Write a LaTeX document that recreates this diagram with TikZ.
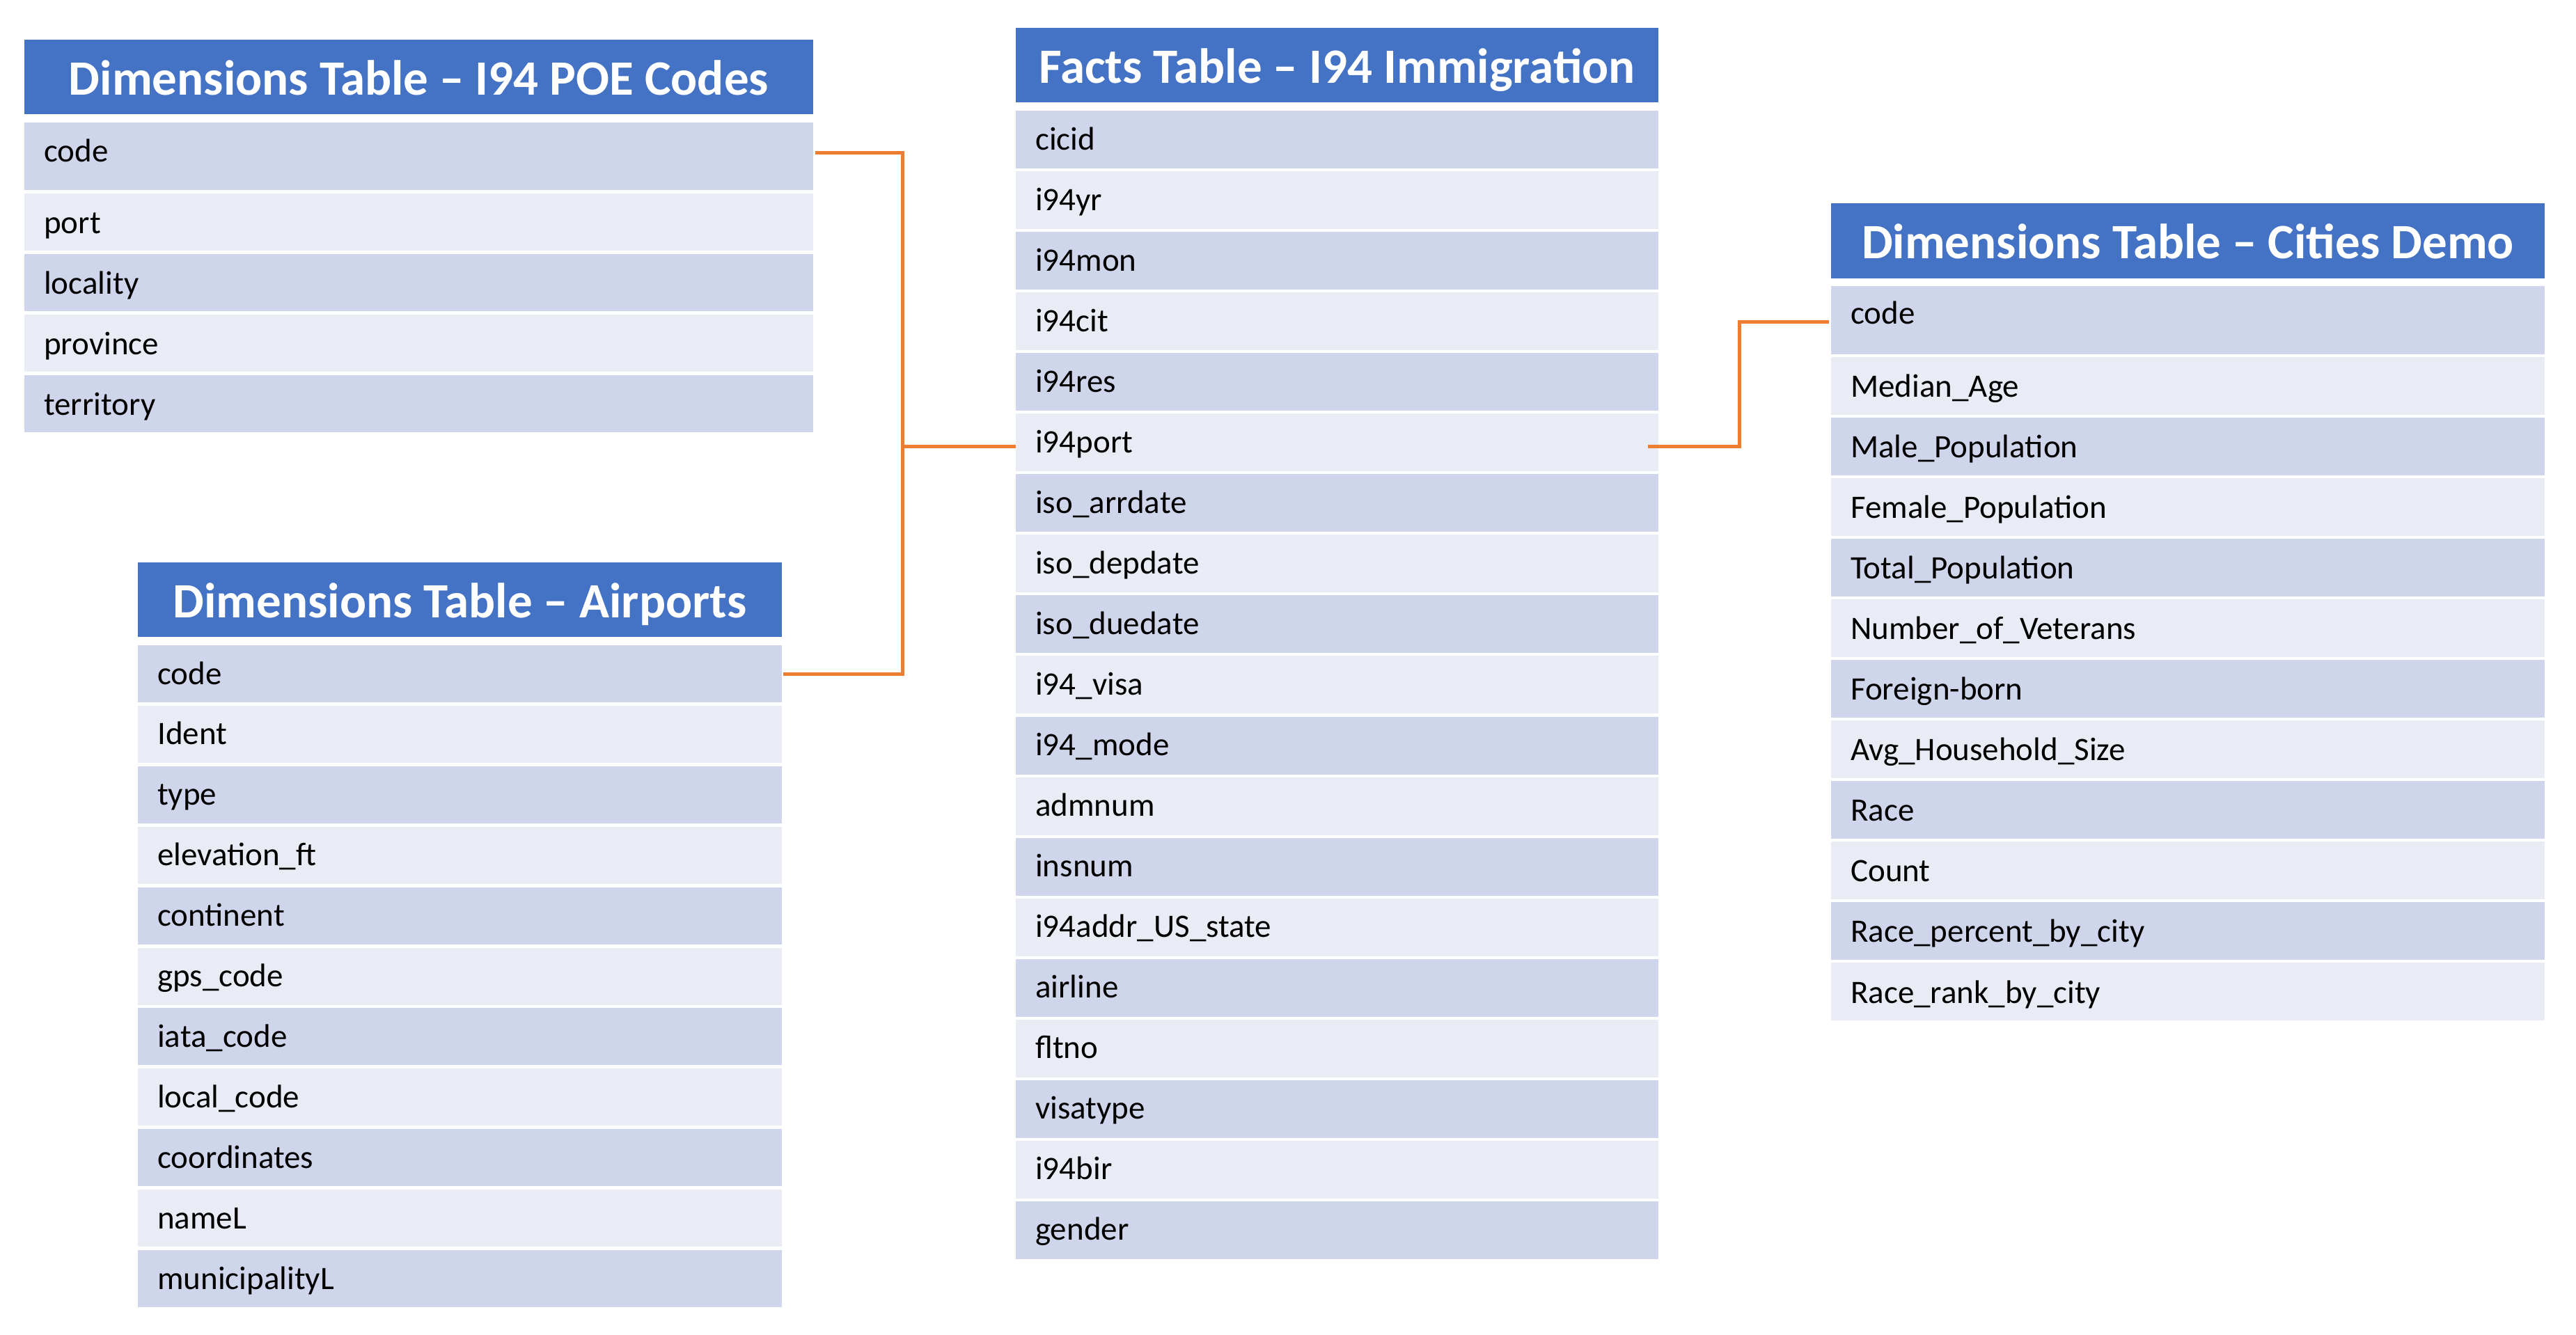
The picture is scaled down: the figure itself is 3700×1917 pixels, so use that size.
\documentclass[tikz,border=0pt]{standalone}
\usepackage{fontspec}
\setmainfont{Carlito}
\definecolor{hdr}{HTML}{4472C4}
\definecolor{rdark}{HTML}{CFD5EA}
\definecolor{rlight}{HTML}{E9EBF5}
\definecolor{conncol}{HTML}{ED7D31}
\tikzset{
  hdrbox/.style={fill=hdr, draw=none, inner sep=0pt, outer sep=0pt, anchor=north west},
  rowbox/.style={draw=none, inner sep=0pt, outer sep=0pt, anchor=north west},
  hdrtext/.style={text=white, font=\fontsize{71}{85}\selectfont\bfseries, anchor=base, inner sep=0pt},
  fieldtext/.style={text=black, font=\fontsize{47}{56}\selectfont, anchor=base west, inner sep=0pt},
  conn/.style={draw=conncol, line width=5pt},
}
\begin{document}
\begin{tikzpicture}[x=1pt,y=-1pt]
\fill[white] (0,0) rectangle (3700,1917);
\useasboundingbox (0,0) rectangle (3700,1917);

% ---------- Dimensions Table - I94 POE Codes ----------
\node[hdrbox, minimum width=1133pt, minimum height=107pt] (poeh) at (35,57) {};
\node[hdrtext] (poeht) at (601.5,136) {Dimensions Table – I94 POE Codes};
\node[rowbox, fill=rdark, minimum width=1133pt, minimum height=97pt] (poe1) at (35,176) {};
\node[fieldtext] (poet1) at (63,232) {code};
\foreach \t [count=\i] in {port,locality,province,territory}{
  \pgfmathsetmacro\ty{278+87*(\i-1)}
  \ifodd\i\def\rc{rlight}\else\def\rc{rdark}\fi
  \node[rowbox, fill=\rc, minimum width=1133pt, minimum height=82pt] (poe\i x) at (35,\ty) {};
  \node[fieldtext] (poet\i x) at (63,\ty+57) {\t};
}

% ---------- Dimensions Table - Airports ----------
\node[hdrbox, minimum width=925pt, minimum height=107pt] (airh) at (198,808) {};
\node[hdrtext] (airht) at (660.5,887) {Dimensions Table – Airports};
\foreach \t [count=\i] in {code,Ident,type,elevation\_ft,continent,gps\_code,iata\_code,local\_code,coordinates,nameL,municipalityL}{
  \pgfmathsetmacro\ty{927+86.9*(\i-1)}
  \ifodd\i\def\rc{rdark}\else\def\rc{rlight}\fi
  \node[rowbox, fill=\rc, minimum width=925pt, minimum height=82pt] (air\i) at (198,\ty) {};
  \node[fieldtext] (airt\i) at (226,\ty+56) {\t};
}

% ---------- Facts Table - I94 Immigration ----------
\node[hdrbox, minimum width=923pt, minimum height=107pt] (fh) at (1459,40) {};
\node[hdrtext] (fht) at (1920.5,119) {Facts Table – I94 Immigration};
\foreach \t [count=\i] in {cicid,i94yr,i94mon,i94cit,i94res,i94port,iso\_arrdate,iso\_depdate,iso\_duedate,i94\_visa,i94\_mode,admnum,insnum,i94addr\_US\_state,airline,fltno,visatype,i94bir,gender}{
  \pgfmathsetmacro\ty{159+87.05*(\i-1)}
  \ifodd\i\def\rc{rdark}\else\def\rc{rlight}\fi
  \node[rowbox, fill=\rc, minimum width=923pt, minimum height=83pt] (f\i) at (1459,\ty) {};
  \node[fieldtext] (ft\i) at (1487,\ty+56) {\t};
}

% ---------- Dimensions Table - Cities Demo ----------
\node[hdrbox, minimum width=1025pt, minimum height=108pt] (ch) at (2630,292) {};
\node[hdrtext] (cht) at (3142.5,371) {Dimensions Table – Cities Demo};
\node[rowbox, fill=rdark, minimum width=1025pt, minimum height=98pt] (c1) at (2630,411) {};
\node[fieldtext] (ct1) at (2658,465) {code};
\foreach \t [count=\i] in {Median\_Age,Male\_Population,Female\_Population,Total\_Population,Number\_of\_Veterans,Foreign-born,Avg\_Household\_Size,Race,Count,Race\_percent\_by\_city,Race\_rank\_by\_city}{
  \pgfmathsetmacro\ty{512.5+87.05*(\i-1)}
  \ifodd\i\def\rc{rlight}\else\def\rc{rdark}\fi
  \node[rowbox, fill=\rc, minimum width=1025pt, minimum height=83pt] (c\i x) at (2630,\ty) {};
  \node[fieldtext] (ct\i x) at (2658,\ty+58) {\t};
}

% ---------- Connectors ----------
\coordinate (jl) at (1296,641);
\coordinate (jr) at (2498,641);
\draw[conn] ([xshift=3pt,yshift=5.5pt]poe1.east) -| (jl) |- ([xshift=2pt]air1.east);
\draw[conn] (jl) -- (f6.west |- jl);
\draw[conn] ([xshift=-15pt]f6.east |- jr) -- (jr) |- ([xshift=-3pt,yshift=-2pt]c1.west);
\end{tikzpicture}
\end{document}
